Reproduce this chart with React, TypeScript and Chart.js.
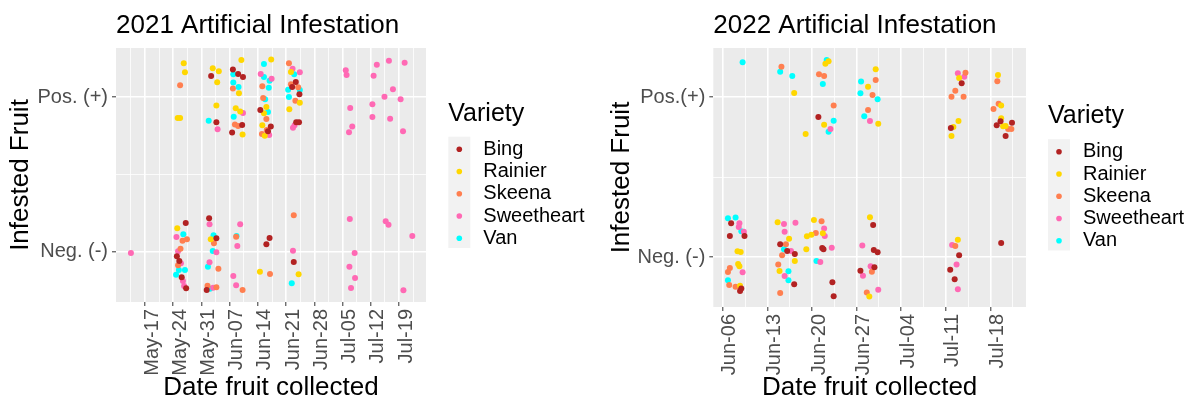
import React, { useEffect, useRef } from "react";
import { Chart, registerables } from "chart.js";

Chart.register(...registerables);

const FONT = '"Liberation Sans", Arial, Helvetica, sans-serif';

const VARIETIES = ["Bing", "Rainier", "Skeena", "Sweetheart", "Van"];
const COLORS = ["#B22222", "#FFD700", "#FF7F50", "#FF69B4", "#00FFFF"];

// x = day of year (jittered), y = 0 for Neg. (-), 1 for Pos. (+) (jittered)
const TICKS_2021 = [137, 144, 151, 158, 165, 172, 179, 186, 193, 200];
const TICK_LABELS_2021 = ["May-17", "May-24", "May-31", "Jun-07", "Jun-14", "Jun-21", "Jun-28", "Jul-05", "Jul-12", "Jul-19"];
const TICKS_2022 = [157, 164, 171, 178, 185, 192, 199];
const TICK_LABELS_2022 = ["Jun-06", "Jun-13", "Jun-20", "Jun-27", "Jul-04", "Jul-11", "Jul-18"];

const BING_2021: [number, number][] = [
  [153.4, 1.138], [161.3, 1.131], [158.8, 1.179], [160.1, 1.151], [154.7, 0.838], [161.1, 0.821], [158.6, 0.771],
  [165.6, 0.918], [168.2, 0.81], [167.5, 0.78], [174.4, 1.099], [173.5, 1.067], [175.3, 1.019], [174.5, 0.838],
  [175.2, 0.838], [147.1, 0.186], [144.9, -0.03], [145.5, -0.06], [146.1, -0.166], [147.2, -0.237], [152.9, 0.216],
  [154.7, 0.087], [152.3, -0.248], [167.9, 0.089], [167.1, 0.048], [173.9, -0.067],
];
const RAINIER_2021: [number, number][] = [
  [146.6, 1.22], [146.9, 1.162], [145.1, 0.866], [145.7, 0.866], [153.8, 1.188], [155.3, 1.168], [154.9, 1.097],
  [154.7, 0.946], [160.9, 1.242], [160.3, 1.026], [159.5, 0.929], [160.6, 0.907], [161.2, 0.758], [168.3, 1.244],
  [167.1, 0.937], [166.5, 0.896], [166.1, 0.819], [166.7, 0.751], [173.2, 1.164], [175.4, 0.965], [172.8, 0.922],
  [145.0, 0.152], [153.3, 0.08], [165.5, -0.13], [175.1, -0.146],
];
const SKEENA_2021: [number, number][] = [
  [145.7, 1.078], [158.8, 1.056], [159.3, 0.823], [160.1, 0.814], [166.1, 1.071], [166.3, 0.995], [167.1, 0.859],
  [167.2, 0.788], [166.0, 0.762], [172.7, 1.22], [173.2, 1.084], [175.0, 1.065], [174.3, 0.978], [146.3, 0.071],
  [147.4, 0.08], [145.8, 0.019], [145.2, -0.088], [154.1, 0.054], [155.2, -0.11], [152.5, -0.22], [154.7, -0.231],
  [159.6, 0.097], [161.2, -0.248], [168.0, -0.144], [173.9, 0.236],
];
const SWEETHEART_2021: [number, number][] = [
  [155.0, 0.793], [161.3, 0.898], [165.7, 1.151], [168.4, 1.12], [167.8, 0.756], [173.6, 1.185], [175.4, 1.162],
  [174.1, 0.819], [173.7, 0.803], [186.8, 1.175], [187.0, 1.144], [194.5, 1.211], [197.5, 1.237], [201.4, 1.224],
  [193.7, 1.14], [198.5, 1.052], [196.4, 1.004], [200.4, 0.987], [193.4, 0.955], [187.9, 0.931], [193.4, 0.872],
  [197.8, 0.861], [188.4, 0.81], [187.6, 0.773], [201.0, 0.78],
  [133.5, -0.008], [144.8, 0.095], [145.2, 0.003], [145.9, -0.075], [146.4, -0.19], [146.7, -0.222], [153.0, 0.177],
  [154.7, -0.004], [153.0, -0.069], [153.9, -0.233], [160.6, 0.177], [159.9, 0.037], [158.9, -0.157], [159.6, -0.218],
  [173.7, 0.006], [187.8, 0.212], [196.7, 0.197], [197.4, 0.175], [203.3, 0.102], [189.0, -0.008], [187.7, -0.097],
  [189.1, -0.17], [188.1, -0.235], [201.1, -0.25],
];
const VAN_2021: [number, number][] = [
  [152.8, 0.848], [158.9, 1.149], [158.9, 1.095], [160.2, 1.067], [159.0, 0.874], [166.5, 1.216], [166.5, 1.131],
  [167.9, 1.107], [167.7, 1.062], [166.8, 0.987], [167.5, 0.905], [174.0, 1.149], [172.5, 1.049], [175.4, 1.047],
  [172.7, 1.002], [146.5, 0.113], [145.4, -0.119], [146.9, -0.119], [144.7, -0.149], [154.0, 0.106], [153.8, 0.005],
  [152.6, -0.097], [153.1, -0.24], [159.7, 0.102], [173.4, -0.205],
];

const BING_2022: [number, number][] = [
  [172.0, 0.877], [194.5, 1.088], [192.8, 0.808], [200.6, 0.85], [200.0, 0.825], [202.4, 0.841], [201.4, 0.758],
  [158.3, 0.213], [158.1, 0.133], [160.4, 0.133], [159.9, -0.196], [159.7, -0.211], [166.0, 0.081], [167.1, 0.039],
  [168.3, 0.021], [168.2, -0.169], [172.6, 0.058], [172.8, 0.05], [174.2, -0.156], [174.4, -0.244], [178.6, -0.084],
  [180.6, 0.202], [180.7, 0.046], [181.3, 0.031], [180.8, -0.063], [194.1, 0.013], [192.7, -0.078], [193.4, -0.138],
  [200.7, 0.089],
];
const RAINIER_2022: [number, number][] = [
  [168.2, 1.027], [173.6, 1.225], [173.1, 1.21], [172.9, 0.829], [170.0, 0.771], [179.8, 1.066], [181.0, 1.175],
  [181.4, 0.835], [194.1, 1.121], [194.0, 0.852], [193.2, 0.814], [192.9, 0.758], [200.2, 1.139], [200.7, 0.948],
  [200.7, 0.869], [201.0, 0.819], [201.4, 0.821], [159.3, 0.038], [159.8, 0.033], [159.4, -0.042], [159.6, -0.056],
  [159.7, -0.178], [165.6, 0.219], [167.4, 0.116], [168.3, -0.023], [165.9, -0.086], [171.3, 0.233], [170.9, 0.141],
  [170.2, 0.131], [172.7, 0.15], [170.1, 0.05], [180.1, 0.25], [180.0, -0.246], [193.9, 0.11],
];
const SKEENA_2022: [number, number][] = [
  [166.2, 1.191], [172.1, 1.144], [172.9, 1.133], [174.4, 0.948], [179.8, 0.921], [181.0, 1.108], [180.5, 1.014],
  [195.1, 1.154], [193.5, 1.041], [192.9, 1.004], [194.8, 1.004], [200.1, 1.1], [200.3, 0.96], [199.5, 0.927],
  [201.8, 0.802], [202.3, 0.802], [158.1, -0.067], [157.8, -0.092], [158.0, -0.173], [159.0, -0.184], [166.9, 0.081],
  [166.3, 0.013], [165.7, -0.046], [166.0, -0.223], [172.5, 0.225], [171.6, 0.152], [179.6, -0.221], [180.4, -0.09],
  [193.5, 0.071],
];
const SWEETHEART_2022: [number, number][] = [
  [173.9, 0.802], [180.1, 0.852], [193.9, 1.15], [194.9, 1.129], [159.6, 0.213], [159.5, 0.189], [160.3, 0.16],
  [160.1, -0.094], [166.6, 0.208], [168.4, 0.216], [166.7, 0.16], [167.7, 0.039], [166.7, -0.117], [172.9, 0.179],
  [173.0, 0.133], [174.1, 0.06], [172.3, -0.029], [178.9, 0.073], [179.0, -0.115], [180.2, -0.056], [181.4, -0.203],
  [193.0, 0.077], [193.7, -0.046], [193.9, -0.2],
];
const VAN_2022: [number, number][] = [
  [160.1, 1.219], [166.0, 1.16], [167.9, 1.133], [173.3, 1.233], [172.7, 1.083], [174.4, 0.854], [173.6, 0.785],
  [178.7, 1.098], [178.6, 1.025], [179.2, 0.881], [181.3, 0.988], [157.8, 0.244], [159.0, 0.248], [159.9, 0.163],
  [157.8, -0.144], [166.6, 0.05], [167.3, -0.088], [167.3, -0.144], [171.7, -0.023],
];

type PanelProps = {
  left: number;
  width: number;
  title: string;
  posLabel: string;
  negLabel: string;
  series: [number, number][][];
  ticks: number[];
  tickLabels: string[];
  xMin: number;
  xMax: number;
  yMin: number;
  yMax: number;
  area: { left: number; right: number; top: number; bottom: number };
  yTitlePad: number;
  legendX: number;
  legendTitleY: number;
  legendFirstY: number;
};

function Panel(p: PanelProps) {
  const ref = useRef<HTMLCanvasElement | null>(null);
  useEffect(() => {
    const canvas = ref.current;
    if (!canvas) return;
    const H = 407;
    const majors = p.ticks;
    const minorCandidates = [majors[0] - 3.5, ...majors.map((t) => t + 3.5)];
    const minors = minorCandidates.filter((v) => v > p.xMin && v < p.xMax);
    const xTicks = [...majors, ...minors].sort((a, b) => a - b);
    const isMajorX = (v: number) => majors.some((m) => Math.abs(m - v) < 1e-6);
    const isMajorY = (v: number) => Math.abs(v - 0.5) > 1e-6;

    const bgPlugin = {
      id: "panelBg",
      beforeDraw(chart: any) {
        const { ctx, chartArea } = chart;
        ctx.save();
        ctx.fillStyle = "#EBEBEB";
        ctx.fillRect(chartArea.left, chartArea.top, chartArea.right - chartArea.left, chartArea.bottom - chartArea.top);
        ctx.restore();
      },
    };
    const textPlugin = {
      id: "panelText",
      afterDraw(chart: any) {
        const { ctx, chartArea } = chart;
        ctx.save();
        ctx.fillStyle = "#000";
        ctx.textBaseline = "middle";
        ctx.textAlign = "left";
        ctx.font = `26px ${FONT}`;
        ctx.fillText(p.title, chartArea.left, 26);
        // legend
        ctx.font = `25px ${FONT}`;
        ctx.fillText("Variety", p.legendX, p.legendTitleY);
        const step = 22.25;
        ctx.fillStyle = "#F2F2F2";
        ctx.fillRect(p.legendX, p.legendFirstY - 12.6, 22, step * VARIETIES.length);
        VARIETIES.forEach((name, i) => {
          const y = p.legendFirstY + i * step;
          ctx.fillStyle = COLORS[i];
          ctx.beginPath();
          ctx.arc(p.legendX + 11, y, 2.8, 0, Math.PI * 2);
          ctx.fill();
          ctx.fillStyle = "#000";
          ctx.font = `20px ${FONT}`;
          ctx.fillText(name, p.legendX + 35, y);
        });
        ctx.restore();
      },
    };

    const chart = new Chart(canvas, {
      type: "scatter",
      data: {
        datasets: p.series.map((pts, i) => ({
          label: VARIETIES[i],
          data: pts.map(([x, y]) => ({ x, y })),
          backgroundColor: COLORS[i],
          borderWidth: 0,
          pointRadius: 3,
          pointHoverRadius: 3,
        })),
      },
      options: {
        responsive: false,
        animation: false,
        events: [],
        layout: {
          padding: { top: p.area.top, left: 0, right: p.width - p.area.right, bottom: 0 },
        },
        plugins: { legend: { display: false }, tooltip: { enabled: false }, title: { display: false } },
        scales: {
          x: {
            type: "linear",
            min: p.xMin,
            max: p.xMax,
            bounds: "data",
            afterBuildTicks: (scale: any) => {
              scale.ticks = xTicks.map((v) => ({ value: v }));
            },
            afterFit: (scale: any) => {
              scale.height = H - p.area.bottom;
            },
            border: { display: false },
            grid: {
              color: "#FFFFFF",
              lineWidth: (c: any) => (c.tick && isMajorX(c.tick.value) ? 1.6 : 0.8),
              tickColor: (c: any) => (c.tick && isMajorX(c.tick.value) ? "#333333" : "rgba(0,0,0,0)"),
              tickLength: 4,
              tickWidth: 1,
            },
            ticks: {
              autoSkip: false,
              minRotation: 90,
              maxRotation: 90,
              padding: 3,
              labelOffset: 7,
              color: "#4D4D4D",
              font: { family: FONT, size: 20 },
              callback: (v: any) => {
                const i = majors.findIndex((m) => Math.abs(m - Number(v)) < 1e-6);
                return i >= 0 ? p.tickLabels[i] : "";
              },
            },
            title: {
              display: true,
              text: "Date fruit collected",
              color: "#000",
              font: { family: FONT, size: 26 },
              padding: { top: 0, bottom: 3.4 },
            },
          },
          y: {
            type: "linear",
            min: p.yMin,
            max: p.yMax,
            bounds: "data",
            afterBuildTicks: (scale: any) => {
              scale.ticks = [0, 0.5, 1].map((v) => ({ value: v }));
            },
            afterFit: (scale: any) => {
              scale.width = p.area.left;
            },
            border: { display: false },
            grid: {
              color: "#FFFFFF",
              lineWidth: (c: any) => (c.tick && isMajorY(c.tick.value) ? 1.6 : 0.8),
              tickColor: (c: any) => (c.tick && isMajorY(c.tick.value) ? "#333333" : "rgba(0,0,0,0)"),
              tickLength: 4,
              tickWidth: 1,
            },
            ticks: {
              padding: 4,
              color: "#4D4D4D",
              font: { family: FONT, size: 20 },
              callback: (v: any) => {
                const n = Number(v);
                if (Math.abs(n - 1) < 1e-6) return p.posLabel;
                if (Math.abs(n) < 1e-6) return p.negLabel;
                return "";
              },
            },
            title: {
              display: true,
              text: "Infested Fruit",
              color: "#000",
              font: { family: FONT, size: 26 },
              padding: { top: p.yTitlePad, bottom: 0 },
            },
          },
        },
      },
      plugins: [bgPlugin, textPlugin],
    } as any);
    return () => chart.destroy();
  }, []);
  return (
    <canvas
      ref={ref}
      width={p.width}
      height={407}
      style={{ position: "absolute", left: p.left, top: 0, width: p.width, height: 407 }}
    />
  );
}

export default function App() {
  return (
    <div style={{ position: "absolute", left: 0, top: 0, width: 1191, height: 407, background: "#fff", overflow: "hidden" }}>
      <Panel
        left={0}
        width={595}
        title="2021 Artificial Infestation"
        posLabel="Pos. (+)"
        negLabel="Neg. (-)"
        series={[BING_2021, RAINIER_2021, SKEENA_2021, SWEETHEART_2021, VAN_2021]}
        ticks={TICKS_2021}
        tickLabels={TICK_LABELS_2021}
        xMin={129.8}
        xMax={206.7}
        yMin={-0.326}
        yMax={1.319}
        area={{ left: 116, right: 426, top: 48, bottom: 302 }}
        yTitlePad={5.4}
        legendX={448.3}
        legendTitleY={114}
        legendFirstY={149.3}
      />
      <Panel
        left={595}
        width={596}
        title="2022 Artificial Infestation"
        posLabel="Pos.(+)"
        negLabel="Neg. (-)"
        series={[BING_2022, RAINIER_2022, SKEENA_2022, SWEETHEART_2022, VAN_2022]}
        ticks={TICKS_2022}
        tickLabels={TICK_LABELS_2022}
        xMin={155.5}
        xMax={204.6}
        yMin={-0.311}
        yMax={1.308}
        area={{ left: 118.3, right: 431, top: 48, bottom: 307 }}
        yTitlePad={11.4}
        legendX={453}
        legendTitleY={116.5}
        legendFirstY={151.8}
      />
    </div>
  );
}
